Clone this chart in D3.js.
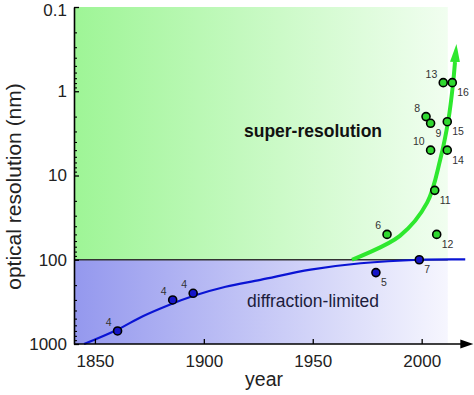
<!DOCTYPE html>
<html><head><meta charset="utf-8">
<script src="https://cdn.jsdelivr.net/npm/d3@7"></script>
<style>body{margin:0;background:#fff}svg{display:block;font-family:"Liberation Sans",Arial,Helvetica,sans-serif}</style>
</head><body><svg id="c" width="474" height="395"></svg>
<script>
// ---- data ----
const xTickValues = [1850, 1900, 1950, 2000];
const yTickValues = [0.1, 1, 10, 100, 1000];
const yTickLabels = ["0.1", "1", "10", "100", "1000"];
const diffractionLimit = 100;
const shadeEndYear = 2012;

const blueYears  = [1860.4, 1885.7, 1895.1, 1979.0, 1998.9];
const blueValues = [700, 300, 250, 142, 100];
const blueLabels = ["4", "4", "4", "5", "7"];
const blueLabelSide = ["ul", "ul", "ul", "lr", "lr"];

const greenYears  = [1984.1, 2002.0, 2004.1, 2004.1, 2006.0, 2006.9, 2009.9, 2011.75, 2011.75, 2014.05];
const greenValues = [50, 2.0, 2.4, 5, 15, 50, 0.79, 5, 2.3, 0.79];
const greenLabels = ["6", "8", "9", "10", "11", "12", "13", "14", "15", "16"];
const greenLabelSide = ["ul", "ul", "lr", "ul", "lr", "lr", "ul", "lr", "lr", "lr"];

const curveYears  = [1845, 1860, 1872, 1884, 1895, 1910, 1926, 1949, 1972, 1999, 2020];
const curveValues = [1000, 681, 468, 344, 269, 209, 173, 131, 110, 100, 99];

const arrowYears  = [1968, 1990, 2002.5, 2008.5, 2012.3, 2014.3, 2015.3];
const arrowValues = [100, 52, 21, 6.5, 2.15, 0.86, 0.45];

// ---- chart ----
const svg = d3.select("#c");
const x = d3.scaleLinear().domain([1840.4, 2023.7]).range([74, 473.3]);
const y = d3.scaleLog().domain([0.1, 1000]).range([7, 344]);

const defs = svg.append("defs");
const gG = defs.append("linearGradient").attr("id", "gGreen").attr("x1", 0).attr("x2", 1).attr("y1", 0).attr("y2", 0);
gG.append("stop").attr("offset", 0).attr("stop-color", "#9ef596");
gG.append("stop").attr("offset", 1).attr("stop-color", "#f1fef0");
const gB = defs.append("linearGradient").attr("id", "gBlue").attr("x1", 0).attr("x2", 1).attr("y1", 0).attr("y2", 0);
gB.append("stop").attr("offset", 0).attr("stop-color", "#9498ee");
gB.append("stop").attr("offset", 1).attr("stop-color", "#f6f6fe");

const mk = defs.append("marker").attr("id", "ah").attr("markerUnits", "userSpaceOnUse")
  .attr("viewBox", "0 0 18 10").attr("markerWidth", 18).attr("markerHeight", 10)
  .attr("refX", 0).attr("refY", 5).attr("orient", "auto");
mk.append("path").attr("d", "M0,0L18,5L0,10Z").attr("fill", "#2ee82e");

const x0 = x.range()[0];
svg.append("rect").attr("x", x0).attr("y", y(0.1))
  .attr("width", x(shadeEndYear) - x0).attr("height", y(diffractionLimit) - y(0.1))
  .attr("fill", "url(#gGreen)");
svg.append("rect").attr("x", x0).attr("y", y(diffractionLimit))
  .attr("width", x(shadeEndYear) - x0).attr("height", y(1000) - y(diffractionLimit))
  .attr("fill", "url(#gBlue)");

svg.append("line").attr("x1", x0).attr("x2", x(shadeEndYear))
  .attr("y1", y(diffractionLimit)).attr("y2", y(diffractionLimit))
  .attr("stroke", "#333").attr("stroke-width", 1.5);

// annotations
svg.append("text").attr("x", 313).attr("y", 137).attr("text-anchor", "middle")
  .attr("font-size", 17.5).attr("font-weight", "bold").attr("fill", "#111").text("super-resolution");
svg.append("text").attr("x", 313).attr("y", 307).attr("text-anchor", "middle")
  .attr("font-size", 17.5).attr("fill", "#1c1c3c").text("diffraction-limited");

// blue curve
svg.append("path").datum(curveYears.map((t, i) => [t, curveValues[i]]))
  .attr("d", d3.line().x(d => x(d[0])).y(d => y(d[1])).curve(d3.curveCatmullRom.alpha(0.5)))
  .attr("fill", "none").attr("stroke", "#0a14d4").attr("stroke-width", 2.2);

// green arrow
svg.append("path").datum(arrowYears.map((t, i) => [t, arrowValues[i]]))
  .attr("d", d3.line().x(d => x(d[0])).y(d => y(d[1])).curve(d3.curveCatmullRom.alpha(0.5)))
  .attr("fill", "none").attr("stroke", "#2ee82e").attr("stroke-width", 4)
  .attr("marker-end", "url(#ah)");

// axes
const xAxis = svg.append("g").attr("transform", `translate(0,${y(1000)})`)
  .call(d3.axisBottom(x).tickValues(xTickValues).tickFormat(d3.format("d"))
    .tickSizeInner(-5).tickSizeOuter(0).tickPadding(11))
  .attr("font-family", null).attr("font-size", null);
xAxis.select(".domain").remove();
xAxis.selectAll("line").attr("stroke", "#000").attr("stroke-width", 1.3);
xAxis.selectAll("text").attr("font-size", 17).attr("fill", "#222");
svg.append("line").attr("x1", x0).attr("x2", x.range()[1] - 9)
  .attr("y1", y(1000)).attr("y2", y(1000)).attr("stroke", "#000").attr("stroke-width", 1.6);
svg.append("path").attr("d", `M${x.range()[1]},${y(1000)}l-13,-4.5l0,9Z`).attr("fill", "#000");

const minor = y.ticks().filter(v => !yTickValues.some(m => Math.abs(m - v) < 1e-9));
const yMinor = svg.append("g").attr("transform", `translate(${x0},0)`)
  .call(d3.axisLeft(y).tickValues(minor).tickFormat("").tickSizeInner(-3).tickSizeOuter(0));
yMinor.select(".domain").remove();
yMinor.selectAll("line").attr("stroke", "#000").attr("stroke-width", 1.1);
const yAxis = svg.append("g").attr("transform", `translate(${x0},0)`)
  .call(d3.axisLeft(y).tickValues(yTickValues).tickFormat((d, i) => yTickLabels[i])
    .tickSizeInner(-5).tickSizeOuter(0).tickPadding(7))
  .attr("font-family", null).attr("font-size", null);
yAxis.select(".domain").attr("stroke", "#000").attr("stroke-width", 1.6);
yAxis.selectAll("line").attr("stroke", "#000").attr("stroke-width", 1.3);
yAxis.selectAll("text").attr("font-size", 17).attr("fill", "#222")
  .attr("dy", (d, i) => i === 0 ? "0.5em" : "0.32em");

// axis titles
svg.append("text").attr("x", 264).attr("y", 386).attr("text-anchor", "middle")
  .attr("font-size", 19.5).attr("fill", "#222").text("year");
svg.append("text").attr("transform", "translate(21,186.5) rotate(-90)").attr("text-anchor", "middle")
  .attr("font-size", 21).attr("fill", "#222").text("optical resolution (nm)");

// points
function drawPoints(years, values, labels, sides, fill) {
  const g = svg.append("g");
  years.forEach((t, i) => {
    const cx = x(t), cy = y(values[i]);
    g.append("circle").attr("cx", cx).attr("cy", cy).attr("r", 4)
      .attr("fill", fill).attr("stroke", "#000").attr("stroke-width", 1.6);
    const ul = sides[i] === "ul";
    g.append("text").attr("x", ul ? cx - 6 : cx + 5).attr("y", ul ? cy - 5 : cy + 13.5)
      .attr("text-anchor", ul ? "end" : "start").attr("font-size", 10.5).attr("fill", "#333")
      .text(labels[i]);
  });
}
drawPoints(blueYears, blueValues, blueLabels, blueLabelSide, "#1616c8");
drawPoints(greenYears, greenValues, greenLabels, greenLabelSide, "#30d830");
</script></body></html>
